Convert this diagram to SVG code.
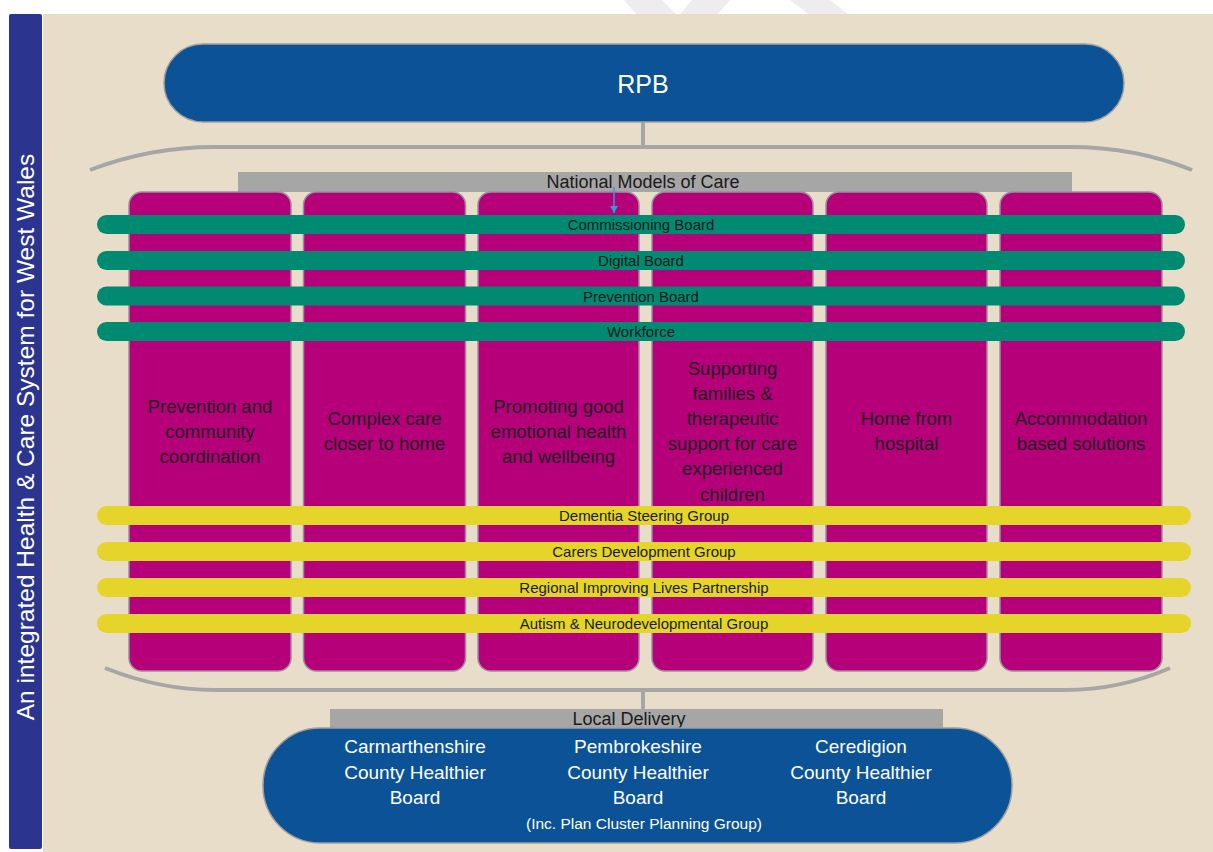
<svg xmlns="http://www.w3.org/2000/svg" width="1213" height="852" viewBox="0 0 1213 852">
<defs>
<style>
.t{font-family:"Liberation Sans",Arial,sans-serif;text-anchor:middle}
.col{fill:#B5007A;stroke:#9C8C9E;stroke-width:1.5}
.col-t{font-size:18.5px;fill:#1E1E1E}
.gb{fill:#008A71}
.yb{fill:#E5D52B}
.bar-t{font-size:15px;fill:#1A1A1A}
.hdr{fill:#A6A6A6}
.hdr-t{font-size:18px;fill:#1A1A1A}
.pill{fill:#0B5396;stroke:#9E9E9E;stroke-width:1.5}
.pill-t{font-size:19px;fill:#FFFFFF}
.arc{fill:none;stroke:#A6A6A6;stroke-width:4}
</style>
<marker id="ah" markerWidth="8" markerHeight="8" refX="7" refY="4" orient="auto" markerUnits="userSpaceOnUse" viewBox="0 0 8 8">
<path d="M0,0 L7,4 L0,8 Z" fill="#2E9BDA"/>
</marker>
</defs>
<rect x="0" y="0" width="1213" height="852" fill="#FFFFFF"/>
<g id="watermark" fill="#EDEDED">
<polygon points="624,0 662,0 676,14 636,14"/>
<polygon points="692,0 730,0 718,14 680,14"/>
<polygon points="790,0 830,0 848,14 808,14"/>
</g>
<rect x="43" y="14" width="1170" height="838" fill="#E8DDC9"/>
<g id="side-label">
<rect x="9" y="14" width="33" height="835" rx="2" fill="#2B3590"/>
<text class="t" x="34" y="437" transform="rotate(-90 34 437)" font-size="24.5" fill="#FFFFFF">An integrated Health &amp; Care System for West Wales</text>
</g>
<g id="connectors">
<line x1="643" y1="122" x2="643" y2="147" stroke="#A6A6A6" stroke-width="4"/>
<path class="arc" d="M90,170 Q150,147 215,147 L1070,147 Q1135,147 1192,170"/>
<path class="arc" d="M105,668 Q160,690 215,690 L1065,690 Q1120,690 1170,668"/>
<line x1="643" y1="690" x2="643" y2="710" stroke="#A6A6A6" stroke-width="4"/>
</g>
<g id="rpb">
<rect class="pill" x="164" y="44" width="960" height="78" rx="39"/>
<text class="t" x="643" y="93" font-size="25" fill="#FFFFFF">RPB</text>
</g>
<g id="national-models">
<rect class="hdr" x="238" y="172" width="834" height="20"/>
<text class="t hdr-t" x="643" y="188">National Models of Care</text>
</g>
<g id="col1"><rect class="col" x="129" y="192" width="162" height="479" rx="13"/>
<text class="t col-t"><tspan x="210" y="413">Prevention and</tspan><tspan x="210" y="438">community</tspan><tspan x="210" y="463">coordination</tspan></text></g>
<g id="col2"><rect class="col" x="303.5" y="192" width="162" height="479" rx="13"/>
<text class="t col-t"><tspan x="384.5" y="425">Complex care</tspan><tspan x="384.5" y="450">closer to home</tspan></text></g>
<g id="col3"><rect class="col" x="478" y="192" width="161" height="479" rx="13"/>
<text class="t col-t"><tspan x="558.5" y="413">Promoting good</tspan><tspan x="558.5" y="438">emotional health</tspan><tspan x="558.5" y="463">and wellbeing</tspan></text></g>
<g id="col4"><rect class="col" x="652" y="192" width="161" height="479" rx="13"/>
<text class="t col-t"><tspan x="732.5" y="375">Supporting</tspan><tspan x="732.5" y="400">families &amp;</tspan><tspan x="732.5" y="425">therapeutic</tspan><tspan x="732.5" y="450">support for care</tspan><tspan x="732.5" y="475">experienced</tspan><tspan x="732.5" y="501">children</tspan></text></g>
<g id="col5"><rect class="col" x="826" y="192" width="161" height="479" rx="13"/>
<text class="t col-t"><tspan x="906.5" y="425">Home from</tspan><tspan x="906.5" y="450">hospital</tspan></text></g>
<g id="col6"><rect class="col" x="1000" y="192" width="162" height="479" rx="13"/>
<text class="t col-t"><tspan x="1081" y="425">Accommodation</tspan><tspan x="1081" y="450">based solutions</tspan></text></g>
<g id="arrow">
<line x1="614" y1="187" x2="614" y2="213" stroke="#2E9BDA" stroke-width="1.5" marker-end="url(#ah)"/>
</g>
<g id="commissioning-board"><rect class="gb" x="97" y="215" width="1088" height="19" rx="9.5"/><text class="t bar-t" x="641" y="230">Commissioning Board</text></g>
<g id="digital-board"><rect class="gb" x="97" y="251" width="1088" height="19" rx="9.5"/><text class="t bar-t" x="641" y="266">Digital Board</text></g>
<g id="prevention-board"><rect class="gb" x="97" y="286.5" width="1088" height="19" rx="9.5"/><text class="t bar-t" x="641" y="301.5">Prevention Board</text></g>
<g id="workforce"><rect class="gb" x="97" y="322" width="1088" height="19" rx="9.5"/><text class="t bar-t" x="641" y="337">Workforce</text></g>
<g id="dementia"><rect class="yb" x="97" y="506" width="1094" height="19" rx="9.5"/><text class="t bar-t" x="644" y="521">Dementia Steering Group</text></g>
<g id="carers"><rect class="yb" x="97" y="542" width="1094" height="19" rx="9.5"/><text class="t bar-t" x="644" y="557">Carers Development Group</text></g>
<g id="improving-lives"><rect class="yb" x="97" y="578" width="1094" height="19" rx="9.5"/><text class="t bar-t" x="644" y="593">Regional Improving Lives Partnership</text></g>
<g id="autism"><rect class="yb" x="97" y="614" width="1094" height="19" rx="9.5"/><text class="t bar-t" x="644" y="629">Autism &amp; Neurodevelopmental Group</text></g>
<g id="local-delivery">
<rect class="hdr" x="330" y="709" width="613" height="20"/>
<text class="t hdr-t" x="629" y="725">Local Delivery</text>
</g>
<g id="healthier-boards">
<rect class="pill" x="263" y="728" width="749" height="115" rx="57"/>
<text class="t pill-t"><tspan x="415" y="753">Carmarthenshire</tspan><tspan x="415" y="779">County Healthier</tspan><tspan x="415" y="804">Board</tspan></text>
<text class="t pill-t"><tspan x="638" y="753">Pembrokeshire</tspan><tspan x="638" y="779">County Healthier</tspan><tspan x="638" y="804">Board</tspan></text>
<text class="t" x="644" y="829" font-size="15.5" fill="#FFFFFF">(Inc. Plan Cluster Planning Group)</text>
<text class="t pill-t"><tspan x="861" y="753">Ceredigion</tspan><tspan x="861" y="779">County Healthier</tspan><tspan x="861" y="804">Board</tspan></text>
</g>
</svg>
